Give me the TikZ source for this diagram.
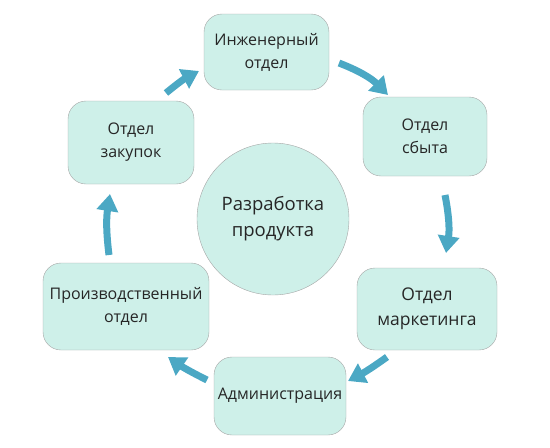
\documentclass[tikz,border=0pt]{standalone}
\usepackage{fontspec}
\setmainfont{Open Sans}
\usetikzlibrary{arrows.meta}
\definecolor{mint}{RGB}{206,240,233}
\definecolor{rim}{RGB}{165,165,165}
\definecolor{flowc}{RGB}{75,168,196}
\begin{document}
\begin{tikzpicture}[x=1pt,y=-1pt,
  dept/.style={draw=rim,fill=mint,rounded corners=18pt,align=center,
    font=\fontsize{16}{23}\selectfont,text=black!85,inner sep=0pt},
  flow/.style={draw=flowc,line width=7pt,-{Triangle[width=21pt,length=17pt]}}]
\useasboundingbox (0,0) rectangle (550,448);
\node[draw=rim,fill=mint,circle,minimum size=152pt,inner sep=0pt,align=center,
  font=\fontsize{18.5}{26}\selectfont,text=black!85] (core) at (273,219) {Разработка\\продукта};
\node[dept,minimum width=125pt,minimum height=76pt] (eng) at (266.5,52) {Инженерный\\отдел};
\node[dept,minimum width=124pt,minimum height=79pt] (sales) at (425,136.5) {Отдел\\сбыта};
\node[dept,minimum width=140pt,minimum height=82pt,font=\fontsize{17.5}{25}\selectfont] (mkt) at (427,309) {Отдел\\маркетинга};
\node[dept,minimum width=132pt,minimum height=78pt] (admin) at (280,396) {Администрация};
\node[dept,minimum width=166pt,minimum height=87pt] (prod) at (126,306.5) {Производственный\\отдел};
\node[dept,minimum width=126pt,minimum height=83pt] (purch) at (131,142.5) {Отдел\\закупок};
% arrow ends
\coordinate (a1) at (166,93);  \coordinate (b1) at (199,71);
\coordinate (a2) at (339,63);  \coordinate (b2) at (388,95);
\coordinate (a3) at (445,195); \coordinate (b3) at (446,253);
\coordinate (a4) at (387,357); \coordinate (b4) at (348,381);
\coordinate (a5) at (207,380); \coordinate (b5) at (168,357);
\coordinate (a6) at (109,255); \coordinate (b6) at (110,194);
\draw[flow] (a1) to[bend left=6] (b1);
\draw[flow] (a2) to[bend left=12] (b2);
\draw[flow] (a3) to[bend left=10] (b3);
\draw[flow] (a4) to[bend left=4] (b4);
\draw[flow] (a5) to[bend left=4] (b5);
\draw[flow] (a6) to[bend left=8] (b6);
\end{tikzpicture}
\end{document}
